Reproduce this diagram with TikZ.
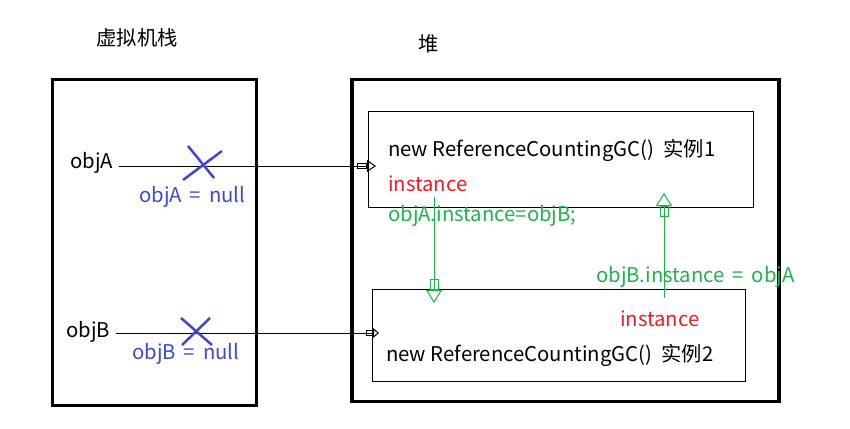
\documentclass[tikz,border=0pt]{standalone}
\usepackage{fontspec}
\setmainfont{Noto Sans CJK SC}
\usetikzlibrary{arrows.meta}

\definecolor{nullblue}{RGB}{63,72,204}
\definecolor{refgreen}{RGB}{34,177,76}
\definecolor{fieldred}{RGB}{237,28,36}

\tikzset{
	areabox/.style={draw, line width=3.5pt, inner sep=0pt, outer sep=0pt},
	objbox/.style={draw, line width=1pt, inner sep=0pt, outer sep=0pt},
	txt/.style={inner sep=0pt, anchor=west, font=\fontsize{20.3}{24}\selectfont},
	hollowA/.style={line width=1pt, -{Rectangle[open,length=10pt,width=6pt]Triangle[open,length=9pt,width=12pt]}},
	hollowB/.style={line width=1pt, -{Rectangle[open,length=7pt,width=6pt]Triangle[open,length=6pt,width=10pt]}},
	hollowG/.style={line width=1pt, draw=refgreen, -{Rectangle[open,length=11pt,width=9pt]Triangle[open,length=13pt,width=16pt]}},
	cross/.style={draw=nullblue, line width=2.5pt}
}
\newcommand{\eqgap}{\hspace{8pt}=\hspace{8pt}}

\begin{document}
\begin{tikzpicture}[x=1pt,y=-1pt]
	\useasboundingbox (0,0) rectangle (850,428);

	% stack and heap areas
	\node[txt, anchor=center] (stacktitle) at (137,38) {虚拟机栈};
	\node[txt, anchor=center] (heaptitle) at (429,44) {堆};
	\node[areabox, minimum width=204pt, minimum height=326pt] (stack) at (154.5,242.5) {};
	\node[areabox, minimum width=427pt, minimum height=322pt] (heap) at (565.5,240.5) {};

	% objects in the heap
	\node[objbox, minimum width=385pt, minimum height=96pt] (obj1) at (560.5,159) {};
	\node[objbox, minimum width=373pt, minimum height=92pt] (obj2) at (558.5,335) {};

	\node[txt] (new1) at (388,150) {new ReferenceCountingGC()\ \ 实例1};
	\node[txt, text=fieldred] (inst1) at (388,184) {instance};
	\node[txt] (new2) at (386,355) {new ReferenceCountingGC()\ \ 实例2};
	\node[txt, text=fieldred] (inst2) at (620,319) {instance};

	% references from the stack
	\node[txt] (objA) at (70,163) {objA};
	\node[txt] (objB) at (66,332) {objB};
	\coordinate (tipA) at (376,166);
	\coordinate (tipB) at (379,333);
	\draw[hollowA] (objA.east |- tipA) ++(6,0) -- (tipA);
	\draw[hollowB] (objB.east |- tipB) ++(6,0) -- (tipB);

	\draw[cross] (188,146) -- (214,178);
	\draw[cross] (222,151) -- (183,180);
	\draw[cross] (181,318) -- (212,345);
	\draw[cross] (210,318) -- (182,345);
	\node[txt, text=nullblue] (nullA) at (139,197) {objA\eqgap null};
	\node[txt, text=nullblue] (nullB) at (132,354) {objB\eqgap null};

	% references between the objects
	\coordinate (downS) at (434,197);
	\coordinate (downT) at (434,303);
	\coordinate (upS) at (664,298);
	\coordinate (upT) at (664,193);
	\draw[hollowG] (downS) -- (downT);
	\draw[hollowG] (upS) -- (upT);
	\node[txt, text=refgreen] (setA) at (388,216) {objA.instance=objB;};
	\node[txt, text=refgreen] (setB) at (596,277) {objB.instance\eqgap objA};
\end{tikzpicture}
\end{document}
